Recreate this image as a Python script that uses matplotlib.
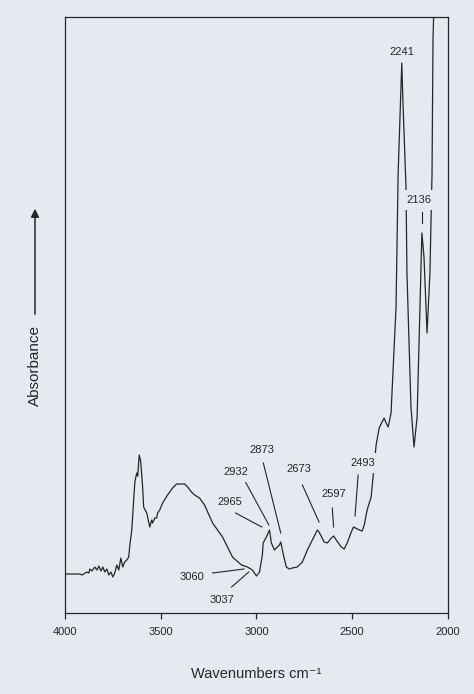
import matplotlib
matplotlib.use('Agg')
import matplotlib.pyplot as plt

plt.rcParams['font.family'] = ['Liberation Sans', 'DejaVu Sans']

bg = '#e5e9f0'
ink = '#262626'

# IR spectrum, wavenumber (cm-1) vs absorbance (arbitrary units)
wavenumber = [4000, 3922, 3911, 3885, 3875, 3870, 3859, 3844, 3833, 3823, 3812, 3802,
              3792, 3781, 3771, 3760, 3750, 3740, 3729, 3719, 3708, 3698, 3688, 3677,
              3667, 3661, 3651, 3635, 3625, 3620, 3612, 3604, 3594, 3589, 3573, 3557,
              3547, 3542, 3531, 3521, 3516, 3505, 3490, 3464, 3438, 3417, 3375, 3359,
              3339, 3323, 3297, 3271, 3229, 3177, 3125, 3078, 3047, 3021, 3000, 2984,
              2969, 2965, 2948, 2932, 2922, 2906, 2891, 2880, 2873, 2859, 2844, 2828,
              2813, 2787, 2760, 2734, 2708, 2682, 2673, 2646, 2630, 2609, 2597, 2583,
              2557, 2542, 2526, 2505, 2493, 2463, 2448, 2437, 2422, 2401, 2385, 2375,
              2359, 2344, 2333, 2323, 2312, 2297, 2271, 2260, 2241, 2234, 2219, 2214,
              2193, 2177, 2161, 2146, 2136, 2125, 2109, 2094, 2083, 2078, 2066]
absorbance = [39, 39, 38, 41, 40, 44, 42, 46, 43, 47, 42, 46,
              41, 44, 38, 41, 36, 40, 48, 43, 55, 46, 51, 53,
              56, 68, 83, 131, 140, 137, 158, 151, 125, 106, 100, 86,
              93, 90, 95, 95, 100, 103, 110, 118, 125, 129, 129, 126,
              121, 118, 115, 108, 90, 76, 56, 48, 46, 43, 37, 41,
              58, 70, 76, 83, 70, 63, 66, 68, 71, 58, 46, 44,
              45, 46, 51, 63, 73, 83, 81, 71, 70, 75, 77, 73,
              66, 64, 70, 81, 86, 83, 82, 88, 103, 116, 148, 168,
              185, 191, 195, 190, 186, 200, 306, 440, 550, 506, 426, 340,
              206, 166, 196, 306, 380, 356, 280, 340, 440, 573, 660]

# peak annotations: label, tip (wavenumber, absorbance), line start, text position
peak_labels = ['3060', '3037', '2965', '2932', '2873', '2673', '2597', '2493', '2136']
tip_w = [3065, 3040, 2972, 2935, 2873, 2673, 2597, 2485, 2136]
tip_a = [44, 41, 86, 88, 80, 91, 86, 97, 390]
start_w = [3229, 3130, 3109, 3063, 2964, 2760, 2604, 2469, 2136]
start_a = [40, 26, 100, 133, 150, 128, 105, 138, 401]
text_w = [3339, 3182, 3141, 3109, 2974, 2776, 2594, 2443, 2151]
text_a = [36, 13, 111, 141, 163, 144, 119, 150, 413]

fig = plt.figure(figsize=(4.74, 6.94), dpi=100, facecolor=bg)
ax = fig.add_axes([0.137, 0.1167, 0.808, 0.8588], facecolor=bg)

ax.plot(wavenumber, absorbance, color=ink, lw=0.9, zorder=2)

for lab, tw, ta, sw, sa, xw, xa in zip(peak_labels, tip_w, tip_a, start_w, start_a, text_w, text_a):
    ax.plot([sw, tw], [sa, ta], color=ink, lw=0.8, zorder=2)
    ax.text(xw, xa, lab, ha='center', va='center', fontsize=8, color=ink, zorder=4,
            bbox=dict(facecolor=bg, edgecolor='none', pad=3.5))

ax.text(2241, 561, '2241', ha='center', va='center', fontsize=8, color=ink, zorder=4)

ax.set_xlim(4000, 2000)
ax.set_ylim(0, 596)
ax.set_xticks([4000, 3500, 3000, 2500, 2000])
ax.set_yticks([])
ax.tick_params(axis='x', direction='out', length=4, width=0.9, colors=ink,
               labelsize=8, pad=6)
for s in ax.spines.values():
    s.set_color(ink)
    s.set_linewidth(0.9)

ax.set_xlabel('Wavenumbers cm\u207b\u00b9', fontsize=10.5, color=ink, labelpad=22)

# y label with an upward arrow above it
fig.text(35 / 474, 1 - 366 / 694, 'Absorbance', rotation=90, ha='center', va='center',
         fontsize=11, color=ink)
fig.patches.append(matplotlib.patches.FancyArrowPatch(
    (35 / 474, 1 - 317 / 694), (35 / 474, 1 - 206 / 694), transform=fig.transFigure,
    arrowstyle='-|>', mutation_scale=12, lw=1.1, color=ink))

fig.savefig('out.png', dpi=100, facecolor=bg)
